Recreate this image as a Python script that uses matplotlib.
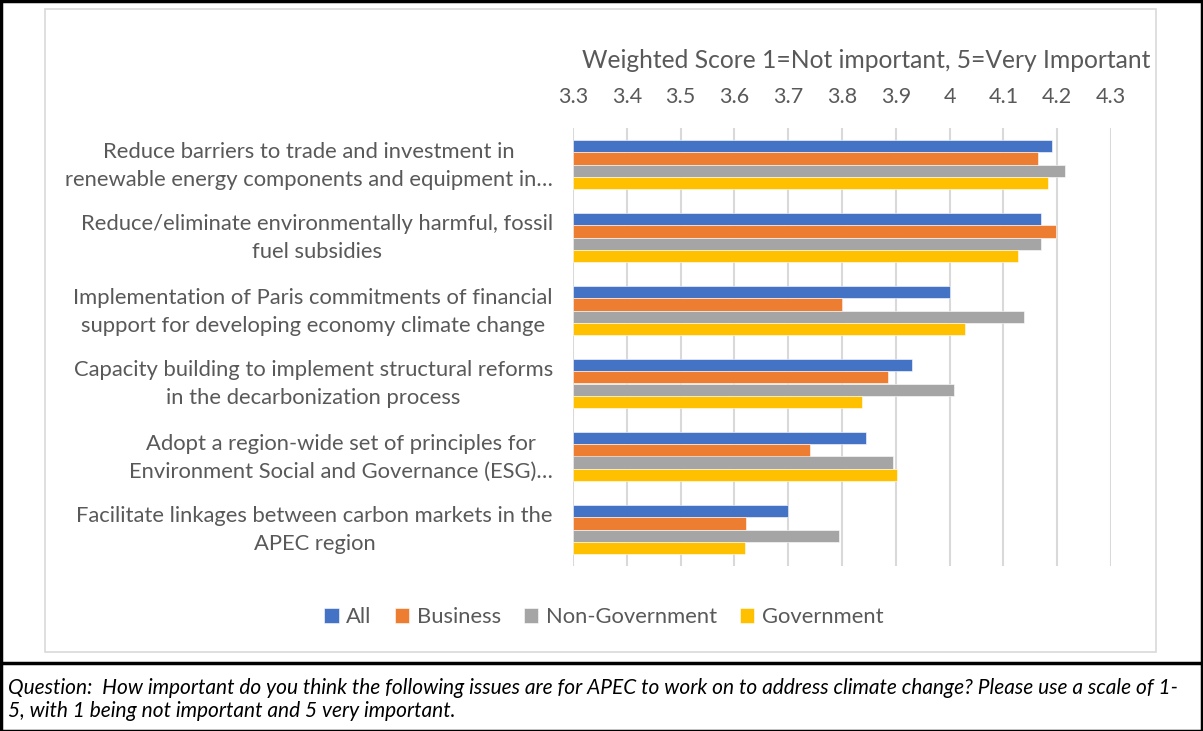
import numpy as np
import matplotlib.pyplot as plt
import matplotlib.transforms as mtransforms
from matplotlib.patches import Rectangle
from matplotlib.lines import Line2D

plt.rcParams['font.family'] = ['Lato', 'DejaVu Sans']

# Survey issues, top to bottom
issues = [
    "Reduce barriers to trade and investment in\nrenewable energy components and equipment in\u2026",
    "Reduce/eliminate environmentally harmful, fossil\nfuel subsidies",
    "Implementation of Paris commitments of financial\nsupport for developing economy climate change",
    "Capacity building to implement structural reforms\nin the decarbonization process",
    "Adopt a region-wide set of principles for\nEnvironment Social and Governance (ESG)\u2026",
    "Facilitate linkages between carbon markets in the\nAPEC region",
]

# Weighted scores by respondent group
score_all = [4.19, 4.17, 4.00, 3.93, 3.845, 3.70]
score_business = [4.164, 4.197, 3.80, 3.886, 3.741, 3.622]
score_nongov = [4.214, 4.17, 4.138, 4.008, 3.895, 3.794]
score_gov = [4.182, 4.127, 4.029, 3.837, 3.903, 3.619]

series_names = ["All", "Business", "Non-Government", "Government"]
series_colors = ["#4472C4", "#ED7D31", "#A5A5A5", "#FFC000"]
x_ticks = [3.3, 3.4, 3.5, 3.6, 3.7, 3.8, 3.9, 4.0, 4.1, 4.2, 4.3]
x_tick_labels = ["3.3", "3.4", "3.5", "3.6", "3.7", "3.8", "3.9", "4", "4.1", "4.2", "4.3"]

text_color = "#595959"
W, H = 1203, 731

fig = plt.figure(figsize=(W / 100, H / 100), dpi=100)

# outer frame, separator line and inner chart border
fig.patches.append(Rectangle((0.5 / W, 0.5 / H), 1 - 1.5 / W, 1 - 1.5 / H,
                             transform=fig.transFigure, fill=False,
                             edgecolor="black", linewidth=2.5))
fig.lines.append(Line2D([0, 1], [1 - 663 / H, 1 - 663 / H], transform=fig.transFigure,
                        color="black", linewidth=2.5))
fig.patches.append(Rectangle((45 / W, 1 - 652 / H), (1156 - 45) / W, (652 - 9) / H,
                             transform=fig.transFigure, fill=False,
                             edgecolor="#D9D9D9", linewidth=1.2))

left, right, top, bottom = 573, 1111, 128, 566
ax = fig.add_axes([left / W, 1 - bottom / H, (right - left) / W, (bottom - top) / H])

series = [score_all, score_business, score_nongov, score_gov]
y = np.arange(len(issues))
bar_h = 0.171
for k, (vals, name, col) in enumerate(zip(series, series_names, series_colors)):
    offset = (k - 1.5) * bar_h
    ax.barh(y + offset, np.array(vals) - 3.3, left=3.3, height=bar_h, color=col,
            edgecolor="white", linewidth=0.4, label=name, zorder=3)

ax.set_xlim(3.3, 4.3)
ax.set_ylim(len(issues) - 0.5, -0.5)
ax.xaxis.tick_top()
ax.set_xticks(x_ticks)
ax.set_xticklabels(x_tick_labels)
ax.tick_params(axis='x', length=0, pad=15, labelsize=15.5, labelcolor=text_color)
ax.set_yticks(y)
ax.set_yticklabels(issues, multialignment='center', linespacing=1.5)
ax.tick_params(axis='y', length=0, pad=14.5, labelsize=15.8, labelcolor=text_color)
# nudge the category labels up a little
shift = mtransforms.ScaledTranslation(0, 5 / 100, fig.dpi_scale_trans)
for lbl in ax.get_yticklabels():
    lbl.set_transform(lbl.get_transform() + shift)
ax.grid(axis='x', color="#D9D9D9", linewidth=1.5, zorder=0)
for s in ax.spines.values():
    s.set_visible(False)

fig.text(866 / W, 1 - 60 / H, "Weighted Score 1=Not important, 5=Very Important",
         ha='center', va='center', fontsize=17.7, color=text_color)

ax.legend(loc='center', bbox_to_anchor=(604 / W, 1 - 617 / H),
          bbox_transform=fig.transFigure, ncol=4, frameon=False, fontsize=15.8,
          handlelength=0.65, handleheight=0.65, handletextpad=0.35, columnspacing=1.05,
          labelcolor=text_color)

fig.text(8 / W, 1 - 688 / H,
         "Question:  How important do you think the following issues are for APEC to work on to address climate change? Please use a scale of 1-",
         ha='left', va='center', fontsize=15, style='italic', color="black")
fig.text(8 / W, 1 - 711 / H,
         "5, with 1 being not important and 5 very important.",
         ha='left', va='center', fontsize=15, style='italic', color="black")

fig.savefig("out.png", dpi=100)
